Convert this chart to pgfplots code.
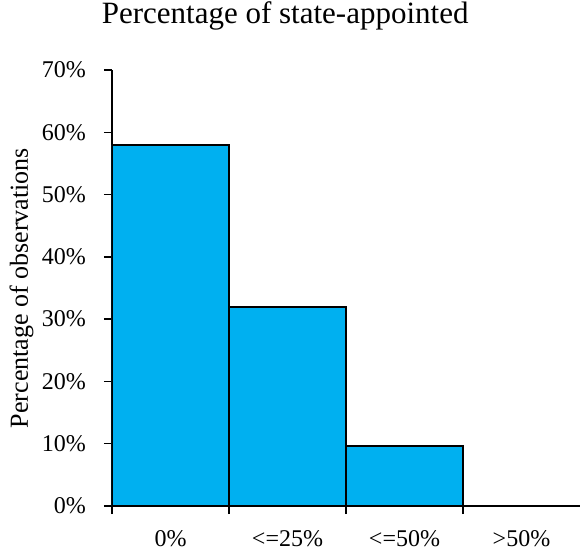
\documentclass[border=0pt]{standalone}
\usepackage{pgfplots}
\pgfplotsset{compat=1.18}
\usepackage{fontspec}
\setmainfont{Liberation Serif}
\definecolor{barblue}{HTML}{00B0F0}
\begin{document}
\begin{tikzpicture}
\begin{axis}[
    width=468pt, height=436pt, scale only axis,
    xmin=0, xmax=4, ymin=0, ymax=70,
    axis x line=bottom, axis y line=left,
    axis line style={-},
    y axis line style={line width=1.3pt},
    x axis line style={line width=2.5pt},
    ytick={0,10,...,70},
    yticklabel={\pgfmathprintnumber{\tick}\%},
    /pgf/number format/assume math mode=true,
    xtick={0,1,2,3}, xticklabels={},
    extra x ticks={0.5,1.5,2.5,3.5},
    extra x tick labels={0\%,<=25\%,<=50\%,>50\%},
    extra x tick style={major tick length=0pt,
        xticklabel style={anchor=base, inner sep=0pt, yshift=-40pt}},
    tick align=outside, major tick length=8pt,
    tick style={black, line width=1.5pt},
    ticklabel style={font=\fontsize{24}{28}\selectfont},
    yticklabel style={anchor=east, inner sep=0pt, xshift=-18pt},
    title={Percentage of state-appointed},
    title style={font=\fontsize{31}{36}\selectfont, inner sep=0pt,
        at={(axis description cs:0.37,1)}, anchor=base, yshift=41pt},
    ylabel={Percentage of observations},
    ylabel style={font=\fontsize{26}{30}\selectfont, inner sep=0pt,
        at={(axis description cs:0,0.5)}, anchor=base, yshift=84pt},
]
\addplot[ybar, bar width=1, bar shift=0pt, fill=barblue, draw=black, line width=2pt]
    coordinates {(0.5,58) (1.5,32) (2.5,9.7) (3.5,0)};
\end{axis}
\pgfresetboundingbox
\useasboundingbox (-112pt,-49pt) rectangle (468pt,506pt);
\end{tikzpicture}
\end{document}
